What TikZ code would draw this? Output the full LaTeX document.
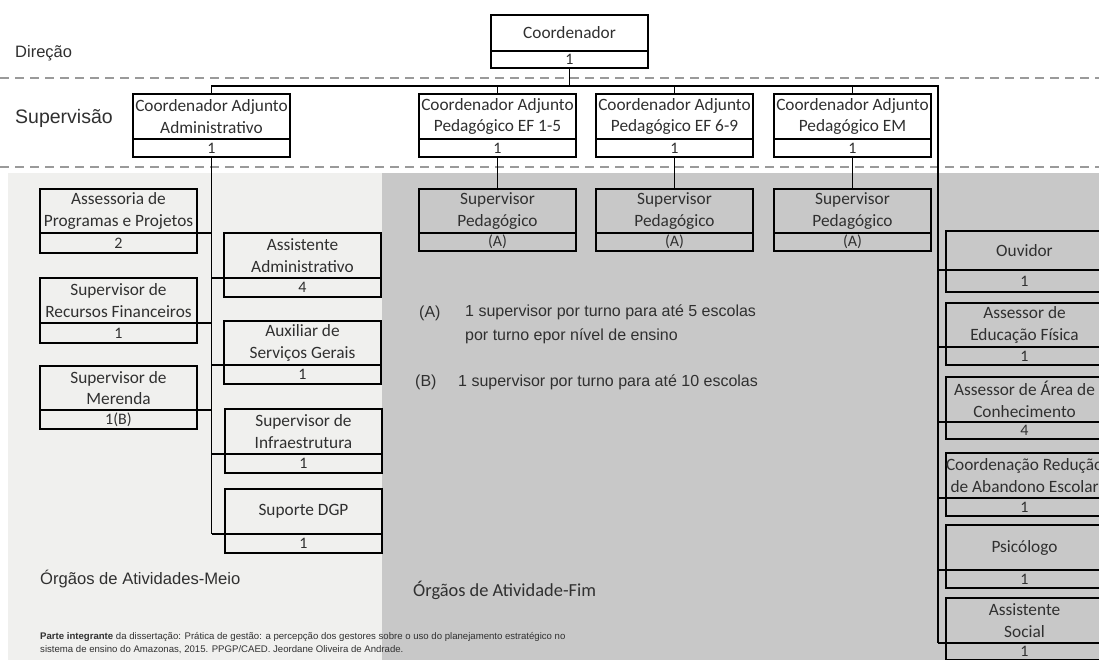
\documentclass[tikz,border=0pt]{standalone}
\usepackage{fontspec}
\setmainfont{Liberation Sans}
\newfontfamily\boxfont{Carlito}
\definecolor{lightbg}{HTML}{F0F0EE}
\definecolor{darkbg}{HTML}{C8C8C8}
\definecolor{dashcol}{HTML}{9A9A9A}
\definecolor{txt}{HTML}{303030}
\tikzset{
  cell/.style={draw=black, line width=1.7pt, inner sep=0pt, outer sep=0pt, anchor=north west,
    minimum width=157pt, align=center, text=txt,
    font=\boxfont\fontsize{17.3}{21.5}\selectfont},
  titlecell/.style={cell, minimum height=#1},
  titlecell/.default=44pt,
  numcell/.style={cell, minimum height=#1, font=\boxfont\fontsize{16}{16}\selectfont},
  numcell/.default=18pt,
  conn/.style={draw=black, line width=1.7pt},
  sepline/.style={draw=dashcol, line width=1.5pt, dash pattern=on 9pt off 6pt},
  label/.style={anchor=west, inner sep=0pt, text=txt, align=left},
}
\begin{document}
\begin{tikzpicture}[x=1pt,y=-1pt]
\useasboundingbox (0,0) rectangle (1099,660);
\clip (0,0) rectangle (1099,660);
% backgrounds
\fill[white] (0,0) rectangle (1099,660);
\fill[lightbg] (8,173) rectangle (382,660);
\fill[darkbg] (382,173) rectangle (1099,660);
% dashed separators
\draw[sepline] (0,78) -- (1099,78);
\draw[sepline] (0,167) -- (1099,167);

% level labels
\node[label, font=\fontsize{16.5}{20}\selectfont] (dir) at (15,53) {Direção};
\node[label, font=\fontsize{19.5}{23}\selectfont] (sup) at (15,118) {Supervisão};
\node[label, font=\fontsize{16.6}{20}\selectfont] (meio) at (40,579) {Órgãos de Atividades-Meio};
\node[label, font=\boxfont\fontsize{18.4}{22}\selectfont] (fim) at (413,590) {Órgãos de Atividade-Fim};

% top
\node[titlecell=36pt] (coordT) at (491,15) {Coordenador};
\node[numcell=17pt] (coordN) at (coordT.south west) {1};

% supervision
\node[titlecell=45pt] (admT) at (133,94) {Coordenador Adjunto\\Administrativo};
\node[numcell] (admN) at (admT.south west) {1};
\node[titlecell=45pt] (ef15T) at (419,94) {Coordenador Adjunto\\Pedagógico EF 1-5};
\node[numcell] (ef15N) at (ef15T.south west) {1};
\node[titlecell=45pt] (ef69T) at (596,94) {Coordenador Adjunto\\Pedagógico EF 6-9};
\node[numcell] (ef69N) at (ef69T.south west) {1};
\node[titlecell=45pt] (emT) at (774,94) {Coordenador Adjunto\\Pedagógico EM};
\node[numcell] (emN) at (emT.south west) {1};

% supervisores pedagogicos
\node[titlecell] (sp1T) at (419,189) {Supervisor\\Pedagógico};
\node[numcell] (sp1N) at (sp1T.south west) {(A)};
\node[titlecell] (sp2T) at (596,189) {Supervisor\\Pedagógico};
\node[numcell] (sp2N) at (sp2T.south west) {(A)};
\node[titlecell] (sp3T) at (774,189) {Supervisor\\Pedagógico};
\node[numcell] (sp3N) at (sp3T.south west) {(A)};

% left column
\node[titlecell] (appT) at (40,189) {Assessoria de\\Programas e Projetos};
\node[numcell=20pt] (appN) at (appT.south west) {2};
\node[titlecell=45pt] (srfT) at (40,278) {Supervisor de\\Recursos Financeiros};
\node[numcell=20pt] (srfN) at (srfT.south west) {1};
\node[titlecell] (smT) at (40,366) {Supervisor de\\Merenda};
\node[numcell=19pt] (smN) at (smT.south west) {1(B)};

% right of admin trunk
\node[titlecell=45pt] (aaT) at (224,233) {Assistente\\Administrativo};
\node[numcell=19pt] (aaN) at (aaT.south west) {4};
\node[titlecell] (asgT) at (224,321) {Auxiliar de\\Serviços Gerais};
\node[numcell=19pt] (asgN) at (asgT.south west) {1};
\node[titlecell=45pt] (siT) at (225,409) {Supervisor de\\Infraestrutura};
\node[numcell=19pt] (siN) at (siT.south west) {1};
\node[titlecell=45pt] (dgpT) at (225,489) {Suporte DGP};
\node[numcell=19pt] (dgpN) at (dgpT.south west) {1};

% right column
\node[titlecell=39pt] (ouvT) at (946,231) {Ouvidor};
\node[numcell=22pt] (ouvN) at (ouvT.south west) {1};
\node[titlecell] (aefT) at (946,303) {Assessor de\\Educação Física};
\node[numcell=18pt] (aefN) at (aefT.south west) {1};
\node[titlecell=45pt] (aacT) at (946,377) {Assessor de Área de\\Conhecimento};
\node[numcell=17pt] (aacN) at (aacT.south west) {4};
\node[titlecell=45pt] (craT) at (946,453) {Coordenação Redução\\de Abandono Escolar};
\node[numcell=18pt] (craN) at (craT.south west) {1};
\node[titlecell=45pt] (psiT) at (946,525) {Psicólogo};
\node[numcell=18pt] (psiN) at (psiT.south west) {1};
\node[titlecell=45pt] (socT) at (946,598) {Assistente\\Social};
\node[numcell=17pt] (socN) at (socT.south west) {1};

% connectors
\coordinate (rt) at (938,86);
\draw[conn] (coordN.south) -- (coordN.south |- rt);
\draw[conn] (admT.north) |- (rt) -- (rt |- socT.south);
\draw[conn] (ef15T.north) -- (ef15T.north |- rt);
\draw[conn] (ef69T.north) -- (ef69T.north |- rt);
\draw[conn] (emT.north) -- (emT.north |- rt);
\draw[conn] (ef15N.south) -- (sp1T.north);
\draw[conn] (ef69N.south) -- (sp2T.north);
\draw[conn] (emN.south) -- (sp3T.north);
% admin trunk
\draw[conn] (admN.south) -- (admN.south |- dgpT.south);
\draw[conn] (appT.south east) -- (admN.south |- appT.south east);
\draw[conn] (srfT.south east) -- (admN.south |- srfT.south east);
\draw[conn] (smT.south east) -- (admN.south |- smT.south east);
\draw[conn] (admN.south |- aaT.south west) -- (aaT.south west);
\draw[conn] (admN.south |- asgT.south west) -- (asgT.south west);
\draw[conn] (admN.south |- siT.south west) -- (siT.south west);
\draw[conn] (admN.south |- dgpT.south west) -- (dgpT.south west);
% right trunk
\draw[conn] (rt |- ouvT.south west) -- (ouvT.south west);
\draw[conn] (rt |- aefT.south west) -- (aefT.south west);
\draw[conn] (rt |- aacT.south west) -- (aacT.south west);
\draw[conn] (rt |- craT.south west) -- (craT.south west);
\draw[conn] (rt |- psiT.south west) -- (psiT.south west);
\draw[conn] (rt |- socT.south west) -- (socT.south west);

% notes
\node[label, font=\fontsize{16}{19}\selectfont] (na) at (419,313) {(A)};
\node[label, font=\fontsize{16}{24}\selectfont, anchor=north west] (nat) at (465,305) {1 supervisor por turno para até 5 escolas\\por turno epor nível de ensino};
\node[label, font=\fontsize{16}{19}\selectfont] (nb) at (415,382) {(B)};
\node[label, font=\fontsize{16}{19}\selectfont] (nbt) at (458,382) {1 supervisor por turno para até 10 escolas};

% footnote
\node[label, anchor=north west, font=\fontsize{9.6}{13}\selectfont] (foot) at (40,632)
  {\textbf{Parte integrante} da dissertação: Prática de gestão: a percepção dos gestores sobre o uso do planejamento estratégico no\\
   sistema de ensino do Amazonas, 2015. PPGP/CAED. Jeordane Oliveira de Andrade.};
\end{tikzpicture}
\end{document}
